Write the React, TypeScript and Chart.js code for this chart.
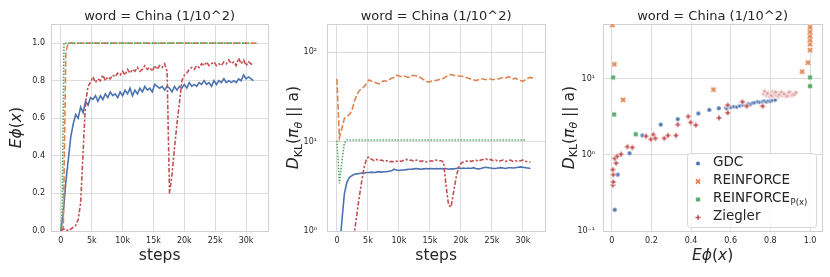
import React, { useEffect, useRef } from 'react';
import { Chart, registerables } from 'chart.js';

Chart.register(...registerables);

// ---------------- data ----------------
const TITLE = 'word = China (1/10^2)';
const LEGEND_NAMES = ['GDC', 'REINFORCE', 'REINFORCE', 'Ziegler'];
const LEGEND_SUBS = ['', '', 'P(x)', ''];

const STEP_TICKS = [0, 5000, 10000, 15000, 20000, 25000, 30000];
const STEP_TICK_LABELS = ['0', '5k', '10k', '15k', '20k', '25k', '30k'];
const E_TICKS = [0, 0.2, 0.4, 0.6, 0.8, 1.0];
const E_TICK_LABELS = ['0.0', '0.2', '0.4', '0.6', '0.8', '1.0'];
const KL_TICKS = [1, 10, 100];
const KL_TICK_LABELS = ['10⁰', '10¹', '10²'];
const SC_X_TICKS = [0, 0.2, 0.4, 0.6, 0.8, 1.0];
const SC_X_TICK_LABELS = ['0', '0.2', '0.4', '0.6', '0.8', '1.0'];
const SC_Y_TICKS = [0.1, 1, 10];
const SC_Y_TICK_LABELS = ['10⁻¹', '10⁰', '10¹'];

const STEPS = [
  0, 400, 800, 1200, 1600, 2000, 2400, 2800, 3200, 3600,
  4000, 4400, 4800, 5200, 5600, 6000, 6400, 6800, 7200, 7600,
  8000, 8400, 8800, 9200, 9600, 10000, 10400, 10800, 11200, 11600,
  12000, 12400, 12800, 13200, 13600, 14000, 14400, 14800, 15200, 15600,
  16000, 16400, 16800, 17200, 17600, 18000, 18400, 18800, 19200, 19600,
  20000, 20400, 20800, 21200, 21600, 22000, 22400, 22800, 23200, 23600,
  24000, 24400, 24800, 25200, 25600, 26000, 26400, 26800, 27200, 27600,
  28000, 28400, 28800, 29200, 29600, 30000, 30400, 30800, 31200,
];
const REINFORCE_KL_STEPS = [...STEPS, 31600, 32000];

// E phi(x) over steps
const GDC_E = [
  0.00, 0.10, 0.26, 0.38, 0.50, 0.57, 0.62, 0.60, 0.66, 0.63,
  0.69, 0.67, 0.71, 0.70, 0.72, 0.69, 0.72, 0.70, 0.73, 0.71,
  0.74, 0.72, 0.73, 0.71, 0.74, 0.72, 0.75, 0.73, 0.76, 0.72,
  0.75, 0.73, 0.76, 0.74, 0.77, 0.75, 0.76, 0.74, 0.78, 0.77,
  0.76, 0.77, 0.75, 0.77, 0.76, 0.74, 0.77, 0.75, 0.77, 0.76,
  0.78, 0.76, 0.79, 0.77, 0.78, 0.77, 0.79, 0.78, 0.80, 0.78,
  0.79, 0.77, 0.80, 0.78, 0.80, 0.79, 0.81, 0.79, 0.80, 0.79,
  0.80, 0.79, 0.81, 0.80, 0.83, 0.81, 0.82, 0.81, 0.80,
];
const ZIEGLER_E = [
  0.00, 0.01, 0.01, 0.00, 0.01, 0.02, 0.03, 0.06, 0.15, 0.42,
  0.68, 0.77, 0.79, 0.82, 0.79, 0.81, 0.80, 0.83, 0.80, 0.82,
  0.81, 0.83, 0.82, 0.84, 0.83, 0.85, 0.83, 0.86, 0.84, 0.86,
  0.85, 0.87, 0.85, 0.86, 0.88, 0.86, 0.87, 0.85, 0.88, 0.86,
  0.88, 0.87, 0.89, 0.85, 0.20, 0.30, 0.44, 0.57, 0.68, 0.80,
  0.83, 0.84, 0.86, 0.87, 0.86, 0.88, 0.87, 0.89, 0.88, 0.90,
  0.88, 0.89, 0.90, 0.88, 0.89, 0.88, 0.90, 0.89, 0.91, 0.89,
  0.90, 0.88, 0.92, 0.89, 0.91, 0.88, 0.90, 0.89, 0.88,
];
const REINFORCE_E_STEPS = [0, 400, 800, 1200, 32000];
const REINFORCE_E = [0.0, 0.02, 0.95, 1.0, 1.0];
const REINFORCE_P_E_STEPS = [0, 200, 500, 30500];
const REINFORCE_P_E = [0.0, 0.1, 1.0, 1.0];

// KL over steps
const GDC_KL = [
  null, 0.6, 1.3, 2.6, 3.5, 3.95, 4.15, 4.3, 4.35, 4.4,
  4.45, 4.45, 4.5, 4.5, 4.55, 4.5, 4.55, 4.6, 4.55, 4.6,
  4.6, 4.65, 4.7, 4.9, 4.8, 4.75, 4.8, 4.8, 4.85, 4.9,
  4.9, 4.95, 5.0, 4.95, 4.9, 4.95, 5.0, 4.95, 5.0, 4.95,
  5.0, 4.95, 5.0, 4.95, 5.0, 4.9, 4.95, 4.95, 5.0, 5.05,
  5.0, 5.05, 5.0, 5.05, 5.0, 5.1, 5.0, 4.95, 5.0, 5.1,
  5.15, 5.1, 5.05, 5.0, 5.0, 5.05, 5.1, 5.05, 5.0, 5.1,
  5.1, 5.05, 5.1, 5.15, 5.2, 5.15, 5.1, 5.05, 5.0,
];
const ZIEGLER_KL = [
  null, null, null, null, null, null, 0.5, 0.95, 1.5, 2.4,
  3.6, 5.2, 6.5, 6.7, 6.3, 6.1, 6.3, 6.1, 6.2, 6.0,
  6.1, 5.9, 6.0, 5.9, 6.0, 6.1, 6.0, 6.2, 6.3, 6.1,
  6.2, 6.0, 6.2, 6.1, 6.0, 6.1, 5.9, 6.0, 6.1, 6.0,
  6.2, 6.1, 6.1, 5.9, 3.2, 1.95, 1.85, 2.7, 3.9, 5.1,
  5.7, 5.9, 6.0, 6.1, 6.0, 6.1, 6.2, 6.0, 6.2, 6.3,
  6.4, 6.2, 6.3, 6.1, 6.2, 6.0, 6.1, 6.2, 6.0, 6.1,
  6.2, 6.0, 6.1, 6.0, 6.1, 6.2, 6.0, 5.9, 5.9,
];
const REINFORCE_KL = [
  50, 11, 14, 18, 19, 20, 22, 28, 33, 37,
  39, 41, 45, 49, 47, 46, 45, 44, 46, 48,
  47, 49, 51, 52, 55, 54, 53, 54, 53, 52,
  54, 55, 54, 53, 51, 49, 47, 46, 47, 48,
  48, 49, 50, 51, 53, 55, 56, 55, 54, 54,
  54, 53, 52, 51, 50, 49, 48, 49, 50, 50,
  49, 50, 50, 49, 50, 50, 51, 52, 51, 53,
  52, 50, 51, 49, 48, 47, 49, 51, 52,
  51, 50,
];
const REINFORCE_P_KL_STEPS = [0, 400, 800, 1200, 1600, 30500];
const REINFORCE_P_KL = [10.2, 3.4, 6.0, 9.6, 10.4, 10.4];

// scatter: KL vs E phi(x)
const GDC_SC_E = [0.015, 0.03, 0.09, 0.155, 0.247, 0.333, 0.437, 0.492, 0.54, 0.575, 0.58, 0.60, 0.615, 0.63, 0.645, 0.66, 0.675, 0.69, 0.70, 0.71, 0.72, 0.735, 0.745, 0.76, 0.77, 0.78, 0.79, 0.80, 0.81, 0.825];
const GDC_SC_KL = [0.19, 0.55, 1.05, 1.8, 2.5, 2.95, 3.5, 3.9, 4.1, 4.15, 4.05, 4.2, 4.3, 4.25, 4.4, 4.5, 4.45, 4.7, 4.6, 4.8, 4.85, 5.0, 4.9, 5.0, 5.1, 4.95, 5.1, 5.05, 5.2, 5.25];
const REINFORCE_SC_E = [0.003, 0.013, 0.057, 0.513, 0.96, 0.99, 1.0, 1.0, 1.0, 1.0, 1.0, 1.0];
const REINFORCE_SC_KL = [51, 15.5, 5.3, 7.2, 12.4, 16.3, 23.8, 28.6, 32.3, 36.4, 41.5, 47.5];
const REINFORCE_P_SC_E = [0.007, 0.012, 0.121, 1.0, 1.0];
const REINFORCE_P_SC_KL = [10.4, 3.4, 1.87, 10.4, 8.0];
const ZIEGLER_SC_E = [0.006, 0.008, 0.008, 0.005, 0.022, 0.015, 0.028, 0.047, 0.079, 0.104, 0.173, 0.198, 0.21, 0.22, 0.265, 0.284, 0.324, 0.333, 0.386, 0.398, 0.424, 0.541, 0.585, 0.585, 0.659, 0.681, 0.761,
  0.765, 0.775, 0.78, 0.79, 0.795, 0.80, 0.81, 0.815, 0.82, 0.83, 0.835, 0.84, 0.85, 0.86, 0.865, 0.875, 0.88, 0.89, 0.90, 0.905, 0.915, 0.925,
  0.77, 0.785, 0.805, 0.825, 0.845, 0.855, 0.87, 0.885, 0.895, 0.91, 0.92, 0.93];
const ZIEGLER_SC_KL = [0.40, 0.44, 0.55, 0.64, 0.78, 0.90, 0.96, 1.02, 1.28, 1.25, 1.76, 1.6, 1.85, 1.65, 1.65, 1.8, 1.8, 2.5, 3.2, 2.67, 2.46, 3.07, 4.5, 3.57, 4.98, 4.37, 4.37,
  6.3, 6.6, 6.0, 6.5, 5.8, 6.2, 6.8, 5.9, 6.4, 6.1, 6.6, 5.8, 6.3, 6.0, 6.5, 5.9, 6.2, 6.4, 6.0, 6.6, 6.3, 6.5,
  6.9, 6.4, 6.0, 6.7, 6.2, 6.7, 6.3, 5.9, 6.7, 6.1, 6.2, 6.6];

// ---------------- style ----------------
const FONT = '"DejaVu Sans", "Liberation Sans", sans-serif';
const TEXT = '#262626';
const GRID = '#dcdcdc';
const SPINE = '#d0d0d0';
const C_GDC = '#4c72b0';
const C_REI = '#dd8452';
const C_REIP = '#55a868';
const C_ZIE = '#c44e52';
const C_ZIE_LIGHT = 'rgba(196,78,82,0.55)';
const DASH_REI = [6, 2.25];
const DASH_REIP = [1.5, 1.5];
const DASH_ZIE = [4.5, 1.9, 2.25, 1.9];
const H = 277;

type Seg = { t: string; it?: boolean; size?: number; dy?: number };

function drawRich(ctx: CanvasRenderingContext2D, segs: Seg[], x: number, y: number, size: number, rotated: boolean) {
  ctx.save();
  ctx.fillStyle = TEXT;
  ctx.textBaseline = 'alphabetic';
  ctx.textAlign = 'left';
  const parts = segs.map((s) => {
    const fs = s.size ?? size;
    const font = `${s.it ? 'italic ' : ''}${fs}px ${FONT}`;
    ctx.font = font;
    return { s, font, w: ctx.measureText(s.t).width };
  });
  const total = parts.reduce((a, p) => a + p.w, 0);
  ctx.translate(x, y);
  let base = 0;
  if (rotated) {
    ctx.rotate(-Math.PI / 2);
    base = size * 0.3;
  }
  let cx = -total / 2;
  for (const p of parts) {
    ctx.font = p.font;
    ctx.fillText(p.s.t, cx, base + (p.s.dy ?? 0));
    cx += p.w;
  }
  ctx.restore();
}

function drawMarker(ctx: CanvasRenderingContext2D, kind: string, x: number, y: number, r: number, color: string) {
  ctx.save();
  ctx.fillStyle = color;
  ctx.strokeStyle = '#ffffff';
  ctx.lineWidth = 0.6;
  ctx.beginPath();
  if (kind === 'o') {
    ctx.arc(x, y, r, 0, Math.PI * 2);
  } else if (kind === 's') {
    ctx.rect(x - r, y - r, 2 * r, 2 * r);
  } else {
    const w = r * 0.36;
    const pts = [[-w, -r], [w, -r], [w, -w], [r, -w], [r, w], [w, w], [w, r], [-w, r], [-w, w], [-r, w], [-r, -w], [-w, -w]];
    const a = kind === 'X' ? Math.PI / 4 : 0;
    pts.forEach(([px, py], i) => {
      const qx = x + px * Math.cos(a) - py * Math.sin(a);
      const qy = y + px * Math.sin(a) + py * Math.cos(a);
      if (i === 0) ctx.moveTo(qx, qy); else ctx.lineTo(qx, qy);
    });
    ctx.closePath();
  }
  ctx.fill();
  ctx.stroke();
  ctx.restore();
}

const MARKERS = [
  { kind: 'o', r: 2.3, color: C_GDC },
  { kind: 'X', r: 3.1, color: C_REI },
  { kind: 's', r: 2.3, color: C_REIP },
  { kind: 'P', r: 2.8, color: C_ZIE },
];

function markerCanvas(kind: string, r: number, color: string) {
  const size = 10;
  const c = document.createElement('canvas');
  c.width = size;
  c.height = size;
  const ctx = c.getContext('2d')!;
  drawMarker(ctx, kind, size / 2, size / 2, r, color);
  return c;
}

function drawLegend(ctx: CanvasRenderingContext2D) {
  const L = 133, T = 153, W = 129, HH = 74;
  ctx.save();
  ctx.beginPath();
  (ctx as any).roundRect(L + 0.5, T + 0.5, W, HH, 3);
  ctx.fillStyle = 'rgba(255,255,255,0.82)';
  ctx.fill();
  ctx.strokeStyle = '#d8d8d8';
  ctx.lineWidth = 1;
  ctx.stroke();
  ctx.restore();
  for (let i = 0; i < 4; i++) {
    const bl = 166 + 18 * i;
    const m = MARKERS[i];
    drawMarker(ctx, m.kind, 144, bl - 2.5, m.r, m.color);
    ctx.save();
    ctx.fillStyle = TEXT;
    ctx.textAlign = 'left';
    ctx.textBaseline = 'alphabetic';
    ctx.font = `13.5px ${FONT}`;
    ctx.fillText(LEGEND_NAMES[i], 159, bl);
    if (LEGEND_SUBS[i]) {
      const w = ctx.measureText(LEGEND_NAMES[i]).width;
      ctx.font = `8.5px ${FONT}`;
      ctx.fillText(LEGEND_SUBS[i], 159 + w + 0.5, bl + 2.5);
    }
    ctx.restore();
  }
}

type Area = { left: number; right: number; top: number; bottom: number };

function panelPlugin(p: { xTitle: Seg[]; yTitle: Seg[]; yTitleX: number; legend?: boolean }) {
  return {
    id: 'panelText',
    beforeDatasetsDraw(chart: any) {
      const { ctx, chartArea: a } = chart;
      ctx.save();
      ctx.strokeStyle = SPINE;
      ctx.lineWidth = 1;
      const l = Math.round(a.left) + 0.5, t = Math.round(a.top) + 0.5;
      ctx.strokeRect(l, t, Math.round(a.right) - Math.round(a.left), Math.round(a.bottom) - Math.round(a.top));
      ctx.restore();
    },
    afterDraw(chart: any) {
      const { ctx, chartArea: a } = chart;
      const cx = (a.left + a.right) / 2;
      drawRich(ctx, [{ t: TITLE }], cx, 20, 13, false);
      drawRich(ctx, p.xTitle, cx, 260, 15.5, false);
      drawRich(ctx, p.yTitle, p.yTitleX, (a.top + a.bottom) / 2, 15.5, true);
      if (p.legend) drawLegend(ctx);
    },
  };
}

function axis(type: string, min: number, max: number, ticks: number[], labels: string[], padding: number, fit: (s: any) => void) {
  return {
    type,
    min,
    max,
    afterBuildTicks: (s: any) => {
      s.ticks = ticks.map((v) => ({ value: v }));
    },
    afterFit: fit,
    ticks: {
      autoSkip: false,
      maxRotation: 0,
      minRotation: 0,
      padding,
      color: TEXT,
      font: { family: FONT, size: 8 },
      callback: (_v: any, i: number) => labels[i],
    },
    grid: { color: GRID, lineWidth: 1, drawTicks: false, tickLength: 0 },
    border: { display: false },
  };
}

function baseOptions(area: Area, W: number, xs: any, ys: any) {
  return {
    responsive: false,
    maintainAspectRatio: false,
    animation: false,
    devicePixelRatio: 1,
    events: [],
    layout: { padding: { top: area.top, right: W - area.right, bottom: 0, left: 0 } },
    plugins: { legend: { display: false }, tooltip: { enabled: false }, title: { display: false } },
    elements: { point: { radius: 0 }, line: { tension: 0 } },
    scales: { x: xs, y: ys },
  };
}

function line(label: string, xs: number[], ys: (number | null)[], color: string, dash: number[], order: number) {
  return {
    label,
    data: xs.map((x, i) => ({ x, y: ys[i] })),
    borderColor: color,
    backgroundColor: color,
    borderWidth: 1.6,
    borderDash: dash,
    borderCapStyle: 'butt',
    pointRadius: 0,
    fill: false,
    order,
    clip: 0,
  };
}

function scatter(label: string, xs: number[], ys: number[], idx: number, order: number, dense?: { fromX: number; canvas: HTMLCanvasElement }) {
  const m = MARKERS[idx];
  const normal = markerCanvas(m.kind, m.r, m.color);
  return {
    label,
    data: xs.map((x, i) => ({ x, y: ys[i] })),
    pointStyle: dense
      ? (ctx: any) => (ctx.raw && ctx.raw.x > dense.fromX ? dense.canvas : normal)
      : normal,
    pointRadius: 3,
    backgroundColor: m.color,
    borderColor: m.color,
    showLine: false,
    order,
    clip: 0,
  };
}

const E_TITLE: Seg[] = [{ t: 'E', it: true }, { t: 'ϕ', it: true }, { t: '(' }, { t: 'x', it: true }, { t: ')' }];
const KL_TITLE: Seg[] = [
  { t: 'D', it: true },
  { t: 'KL', size: 11, dy: 3.5 },
  { t: '(' },
  { t: 'π', it: true },
  { t: 'θ', it: true, size: 11, dy: 3.5 },
  { t: ' || a)' },
];
const STEPS_TITLE: Seg[] = [{ t: 'steps' }];

function cfgLeft() {
  const area = { left: 51, right: 268.3, top: 24.3, bottom: 231 };
  const W = 277;
  const xs = axis('linear', -1600, 33600, STEP_TICKS, STEP_TICK_LABELS, 5, (s) => { s.height = H - area.bottom; });
  const ys = axis('linear', 0, 1.1, E_TICKS, E_TICK_LABELS, 6, (s) => { s.width = area.left; });
  return {
    type: 'line',
    data: {
      datasets: [
        line('GDC', STEPS, GDC_E, C_GDC, [], 3),
        line('REINFORCE', REINFORCE_E_STEPS, REINFORCE_E, C_REI, DASH_REI, 2),
        line('REINFORCE_P(x)', REINFORCE_P_E_STEPS, REINFORCE_P_E, C_REIP, DASH_REIP, 1),
        line('Ziegler', STEPS, ZIEGLER_E, C_ZIE, DASH_ZIE, 0),
      ],
    },
    options: baseOptions(area, W, xs, ys),
    plugins: [panelPlugin({ xTitle: STEPS_TITLE, yTitle: E_TITLE, yTitleX: 16.7 })],
  } as any;
}

function cfgMid() {
  const area = { left: 50, right: 268.3, top: 24.3, bottom: 231 };
  const W = 277;
  const xs = axis('linear', -1600, 33600, STEP_TICKS, STEP_TICK_LABELS, 5, (s) => { s.height = H - area.bottom; });
  const ys = axis('logarithmic', 1, 204, KL_TICKS, KL_TICK_LABELS, 10, (s) => { s.width = area.left; });
  return {
    type: 'line',
    data: {
      datasets: [
        line('GDC', STEPS, GDC_KL, C_GDC, [], 3),
        line('REINFORCE', REINFORCE_KL_STEPS, REINFORCE_KL, C_REI, DASH_REI, 2),
        line('REINFORCE_P(x)', REINFORCE_P_KL_STEPS, REINFORCE_P_KL, C_REIP, DASH_REIP, 1),
        line('Ziegler', STEPS, ZIEGLER_KL, C_ZIE, DASH_ZIE, 0),
      ],
    },
    options: baseOptions(area, W, xs, ys),
    plugins: [panelPlugin({ xTitle: STEPS_TITLE, yTitle: KL_TITLE, yTitleX: 16.7 })],
  } as any;
}

function cfgRight() {
  const area = { left: 49, right: 268.3, top: 24.3, bottom: 231 };
  const W = 276;
  const xs = axis('linear', -0.044, 1.062, SC_X_TICKS, SC_X_TICK_LABELS, 5, (s) => { s.height = H - area.bottom; });
  const ys = axis('logarithmic', 0.1, 52, SC_Y_TICKS, SC_Y_TICK_LABELS, 8, (s) => { s.width = area.left; });
  const zLight = markerCanvas('P', 2.3, C_ZIE_LIGHT);
  const gSmall = markerCanvas('o', 2.0, C_GDC);
  return {
    type: 'scatter',
    data: {
      datasets: [
        scatter('GDC', GDC_SC_E, GDC_SC_KL, 0, 3, { fromX: 0.57, canvas: gSmall }),
        scatter('REINFORCE', REINFORCE_SC_E, REINFORCE_SC_KL, 1, 2),
        scatter('REINFORCE_P(x)', REINFORCE_P_SC_E, REINFORCE_P_SC_KL, 2, 1),
        scatter('Ziegler', ZIEGLER_SC_E, ZIEGLER_SC_KL, 3, 0, { fromX: 0.762, canvas: zLight }),
      ],
    },
    options: baseOptions(area, W, xs, ys),
    plugins: [panelPlugin({ xTitle: E_TITLE, yTitle: KL_TITLE, yTitleX: 15, legend: true })],
  } as any;
}

export default function App() {
  const r1 = useRef<HTMLCanvasElement>(null);
  const r2 = useRef<HTMLCanvasElement>(null);
  const r3 = useRef<HTMLCanvasElement>(null);
  useEffect(() => {
    const charts = [
      new Chart(r1.current!, cfgLeft()),
      new Chart(r2.current!, cfgMid()),
      new Chart(r3.current!, cfgRight()),
    ];
    return () => charts.forEach((c) => c.destroy());
  }, []);
  return (
    <div style={{ position: 'fixed', left: 0, top: 0, width: 830, height: 277, background: '#ffffff' }}>
      <canvas ref={r1} width={277} height={277} style={{ position: 'absolute', left: 0, top: 0, width: 277, height: 277 }} />
      <canvas ref={r2} width={277} height={277} style={{ position: 'absolute', left: 277, top: 0, width: 277, height: 277 }} />
      <canvas ref={r3} width={276} height={277} style={{ position: 'absolute', left: 554, top: 0, width: 276, height: 277 }} />
    </div>
  );
}
